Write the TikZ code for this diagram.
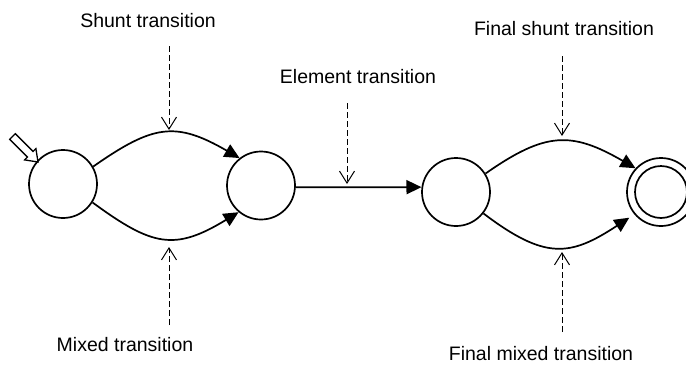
\documentclass[tikz,border=0pt]{standalone}
\usepackage{fontspec}
\setmainfont{Liberation Sans}
\usetikzlibrary{arrows.meta}
\begin{document}
\begin{tikzpicture}[x=1pt,y=-1pt,
  state/.style={circle,draw,line width=1.7pt,minimum size=68pt,inner sep=0pt},
  trans/.style={line width=1.7pt,-{Triangle[length=15pt,width=14pt]}},
  hint/.style={line width=1pt,dash pattern=on 6pt off 3pt,-{Straight Barb[length=12pt,width=15pt,line width=1pt]}},
  lbl/.style={font=\fontsize{19.5}{22}\selectfont,anchor=base,inner sep=0pt}]
\useasboundingbox (0,0) rectangle (686,365);

% states
\node[state] (c1) at (63,184) {};
\node[state] (c2) at (261,185.5) {};
\node[state] (c3) at (456,192) {};
\node[state] (c4) at (661,192) {};
\draw[line width=1.7pt] (c4.center) circle (26pt);

% start arrow (hollow block arrow)
\draw[line width=1.3pt,fill=white,line join=miter]
  (38,162) -- (35.9,148.6) -- (33.0,151.4) -- (15.3,133.7) -- (9.7,139.3)
  -- (27.4,157.0) -- (24.6,159.9) -- cycle;

% transitions
\draw[trans] (c1.30) .. controls +(60,-42) and +(-64,-37) .. (c2.128);
\draw[trans] (c1.-32) .. controls +(60,44) and +(-64,39) .. (c2.-130);
\draw[trans] (c2.-3) -- (c3.172);
\draw[trans] (c3.32) .. controls +(60,-42) and +(-64,-37) .. (c4.137);
\draw[trans,shorten >=6pt] (c3.-38) .. controls +(62,47) and +(-64,42) .. (c4.-140);

% labels
\node[lbl] (tShunt) at (148,27) {Shunt transition};
\node[lbl] (tElem) at (358,83) {Element transition};
\node[lbl] (tFS) at (564,35) {Final shunt transition};
\node[lbl] (tMix) at (125,351) {Mixed transition};
\node[lbl] (tFM) at (541,360) {Final mixed transition};

% pointer arrows
\coordinate (p1a) at (169,46);  \coordinate (p1b) at (169,130);
\coordinate (p2a) at (347,103); \coordinate (p2b) at (347,184);
\coordinate (p3a) at (562,56);  \coordinate (p3b) at (562,136);
\coordinate (p4a) at (169,325); \coordinate (p4b) at (169,247);
\coordinate (p5a) at (562,332); \coordinate (p5b) at (562,252);
\draw[hint] (p1a) -- (p1b);
\draw[hint] (p2a) -- (p2b);
\draw[hint] (p3a) -- (p3b);
\draw[hint] (p4a) -- (p4b);
\draw[hint] (p5a) -- (p5b);
\end{tikzpicture}
\end{document}
